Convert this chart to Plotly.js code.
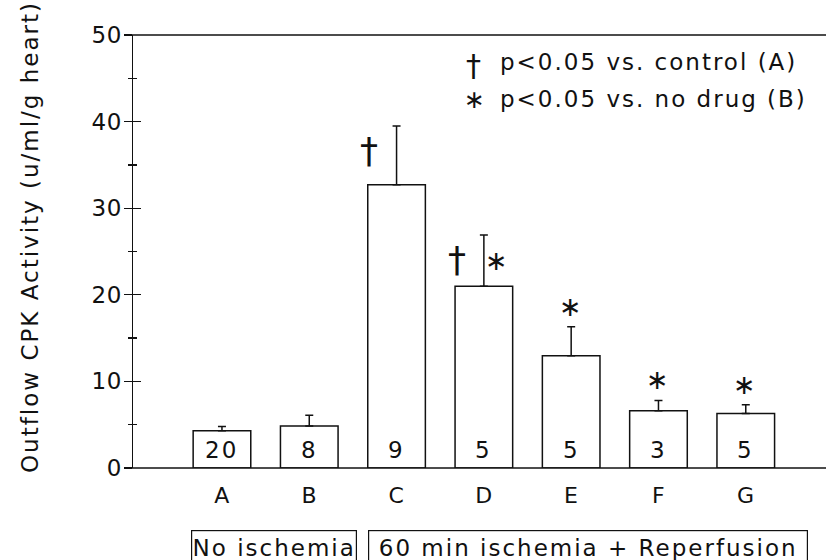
<!DOCTYPE html>
<html>
<head>
<meta charset="utf-8">
<script src="https://cdn.plot.ly/plotly-3.0.1.min.js"></script>
<style>
  html, body { margin: 0; padding: 0; background: #fff; }
  #chart { width: 826px; height: 560px; }
  svg text { letter-spacing: 2px; }
  svg .ytick text, svg .xtick text { letter-spacing: 0.5px; }
</style>
</head>
<body>
<div id="chart"></div>
<script>
// ---- data ----
const groups = ['A', 'B', 'C', 'D', 'E', 'F', 'G'];
const meanCPK = [4.3, 4.85, 32.7, 21.0, 12.95, 6.6, 6.3];
const semCPK = [0.5, 1.25, 6.8, 5.9, 3.35, 1.2, 1.0];
const nHearts = [20, 8, 9, 5, 5, 3, 5];
const sigVsControl = ['C', 'D'];
const sigVsNoDrug = ['D', 'E', 'F', 'G'];
const legendLines = ['p&lt;0.05 vs. control (A)', 'p&lt;0.05 vs. no drug (B)'];
const conditionLabels = ['No ischemia', '60 min ischemia + Reperfusion'];
const yTitle = 'Outflow CPK Activity (u/ml/g heart)';
const yTicks = [0, 10, 20, 30, 40, 50];

const FONT = 'DejaVu Sans, Liberation Sans, sans-serif';
const INK = '#111';
const xIdx = groups.map((g, i) => i);

const bars = {
  type: 'bar',
  x: xIdx,
  y: meanCPK,
  width: 0.66,
  marker: { color: '#fff', line: { color: INK, width: 1.5 } },
  error_y: {
    type: 'data', symmetric: false,
    array: semCPK, arrayminus: semCPK.map(() => 0),
    color: INK, thickness: 1.5, width: 4
  },
  hoverinfo: 'x+y',
  showlegend: false
};
// invisible trace to host the mirrored (inside) y ticks
const ghost = { type: 'scatter', x: [0], y: [0], yaxis: 'y2', mode: 'none', showlegend: false, hoverinfo: 'skip' };

const annotations = [];
// n counts inside bars
groups.forEach((g, i) => {
  annotations.push({ x: i, y: 2.1, xref: 'x', yref: 'y', text: String(nHearts[i]), showarrow: false,
    yanchor: 'middle', font: { family: FONT, size: 23, color: INK } });
});
// significance marks
groups.forEach((g, i) => {
  const top = meanCPK[i] + semCPK[i];
  const hasDagger = sigVsControl.includes(g);
  if (hasDagger) {
    annotations.push({ x: i - 0.3, y: top - 2.8, xref: 'x', yref: 'y', text: '†', showarrow: false,
      yanchor: 'middle', font: { family: FONT, size: 36, color: INK } });
  }
  if (sigVsNoDrug.includes(g)) {
    annotations.push({ x: hasDagger ? i + 0.16 : i, y: hasDagger ? top - 2.9 : top + 2.4, xref: 'x', yref: 'y',
      text: '∗', showarrow: false, yanchor: 'middle', font: { family: FONT, size: 27, color: INK } });
  }
});
// plot area in pixels
const L = 133, T = 35, W = 826 - 133, H = 468 - 35;
const px = v => (v - L) / W;
const py = v => 1 - (v - T) / H;
// key
annotations.push({ x: px(474), y: py(65), xref: 'paper', yref: 'paper', text: '†', showarrow: false,
  xanchor: 'center', yanchor: 'middle', font: { family: FONT, size: 30, color: INK } });
annotations.push({ x: px(475), y: py(99), xref: 'paper', yref: 'paper', text: '∗', showarrow: false,
  xanchor: 'center', yanchor: 'middle', font: { family: FONT, size: 25, color: INK } });
legendLines.forEach((t, k) => {
  annotations.push({ x: px(498), y: py(k === 0 ? 62 : 99), xref: 'paper', yref: 'paper', text: t, showarrow: false,
    xanchor: 'left', yanchor: 'middle', font: { family: FONT, size: 23, color: INK } });
});
// y axis title
annotations.push({ x: px(30), y: py(237), xref: 'paper', yref: 'paper', text: yTitle,
  textangle: -90, showarrow: false, xanchor: 'center', yanchor: 'middle', font: { family: FONT, size: 23, color: INK } });
// condition boxes
const boxes = [{ cx: 274, w: 160 }, { cx: 588, w: 434 }];
conditionLabels.forEach((t, k) => {
  annotations.push({ x: px(boxes[k].cx), y: py(548), xref: 'paper', yref: 'paper', text: t,
    showarrow: false, xanchor: 'center', yanchor: 'middle', width: boxes[k].w, height: 30,
    bordercolor: INK, borderwidth: 1.2, borderpad: 2, font: { family: FONT, size: 23, color: INK } });
});

const layout = {
  width: 826, height: 560,
  margin: { l: L, r: 0, t: T, b: 560 - 468, pad: 0 },
  paper_bgcolor: '#fff', plot_bgcolor: '#fff',
  font: { family: FONT, size: 22, color: INK },
  xaxis: {
    range: [-1.019, 6.919], tickmode: 'array', tickvals: xIdx, ticktext: groups,
    showgrid: false, zeroline: false, showline: false, ticks: '', ticklabelstandoff: 12,
    tickfont: { family: FONT, size: 22, color: INK }, fixedrange: true
  },
  yaxis: {
    range: [0, 50], tickmode: 'array', tickvals: yTicks, showgrid: false, zeroline: false,
    showline: true, linecolor: INK, linewidth: 1.5,
    ticks: 'outside', ticklen: 8, tickwidth: 1.3, tickcolor: INK,
    minor: { dtick: 5, ticks: 'outside', ticklen: 4, tickwidth: 1.3, tickcolor: INK, showgrid: false },
    tickfont: { family: FONT, size: 23, color: INK }, ticklabelstandoff: -3, fixedrange: true
  },
  yaxis2: {
    overlaying: 'y', side: 'left', range: [0, 50], tickmode: 'array', tickvals: yTicks,
    showgrid: false, zeroline: false, showline: false, showticklabels: false,
    ticks: 'inside', ticklen: 8, tickwidth: 1.3, tickcolor: INK,
    minor: { dtick: 5, ticks: 'inside', ticklen: 4, tickwidth: 1.3, tickcolor: INK, showgrid: false },
    fixedrange: true
  },
  shapes: [
    { type: 'line', xref: 'paper', yref: 'paper', x0: -0.012, x1: 1, y0: 1, y1: 1, line: { color: INK, width: 1.5 } },
    { type: 'line', xref: 'paper', yref: 'paper', x0: -0.01, x1: 1, y0: 0, y1: 0, line: { color: INK, width: 1.5 } }
  ],
  annotations: annotations,
  bargap: 0.3,
  showlegend: false
};

Plotly.newPlot('chart', [bars, ghost], layout, { displayModeBar: false, staticPlot: true });
</script>
</body>
</html>
